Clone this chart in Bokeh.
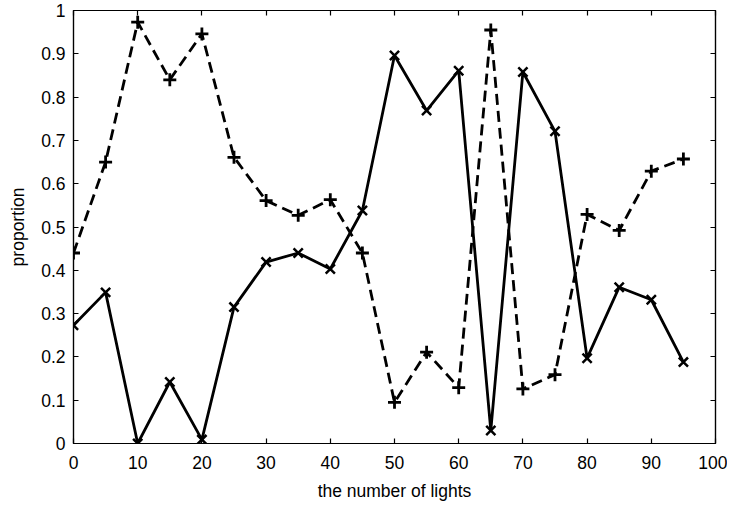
from bokeh.plotting import figure
from bokeh.models import FixedTicker, LinearAxis, Range1d
from bokeh.embed import file_html
from bokeh.resources import INLINE

lights = [0, 5, 10, 15, 20, 25, 30, 35, 40, 45, 50, 55, 60, 65, 70, 75, 80, 85, 90, 95]
series_solid = [0.273, 0.349, 0.0, 0.142, 0.009, 0.315, 0.419, 0.440, 0.403, 0.538,
                0.896, 0.769, 0.861, 0.030, 0.858, 0.721, 0.197, 0.361, 0.332, 0.188]
series_dashed = [0.440, 0.650, 0.973, 0.840, 0.946, 0.661, 0.561, 0.527, 0.563, 0.440,
                 0.095, 0.211, 0.129, 0.955, 0.126, 0.159, 0.529, 0.492, 0.629, 0.657]
x_ticks = [0, 10, 20, 30, 40, 50, 60, 70, 80, 90, 100]
x_tick_labels = ["0", "10", "20", "30", "40", "50", "60", "70", "80", "90", "100"]
y_ticks = [0, 0.1, 0.2, 0.3, 0.4, 0.5, 0.6, 0.7, 0.8, 0.9, 1]
y_tick_labels = ["0", "0.1", "0.2", "0.3", "0.4", "0.5", "0.6", "0.7", "0.8", "0.9", "1"]

FONT = "Liberation Sans"
FS = "17.5px"

p = figure(width=727, height=504, output_backend="svg", toolbar_location=None,
           x_range=Range1d(0, 100), y_range=Range1d(0, 1),
           min_border_left=73, min_border_right=12, min_border_top=10, min_border_bottom=61)
p.grid.visible = False
p.outline_line_color = "black"
p.outline_line_width = 1.2
p.background_fill_color = "white"
p.border_fill_color = "white"

# main axes
for ax in (p.xaxis[0], p.yaxis[0]):
    ax.major_tick_in = 5
    ax.major_tick_out = 0
    ax.minor_tick_in = 0
    ax.minor_tick_out = 0
    ax.axis_line_width = 1.2
    ax.major_tick_line_width = 1.2
    ax.major_label_text_font = FONT
    ax.major_label_text_font_size = FS
    ax.major_label_text_color = "black"
    ax.axis_label_text_font = FONT
    ax.axis_label_text_font_size = FS
    ax.axis_label_text_font_style = "normal"
    ax.axis_label_text_color = "black"

p.xaxis[0].ticker = FixedTicker(ticks=x_ticks)
p.xaxis[0].major_label_overrides = {t: l for t, l in zip(x_ticks, x_tick_labels)}
p.xaxis[0].axis_label = "the number of lights"
p.xaxis[0].major_label_standoff = 12
p.xaxis[0].axis_label_standoff = 9

p.yaxis[0].ticker = FixedTicker(ticks=y_ticks)
p.yaxis[0].major_label_overrides = {t: l for t, l in zip(y_ticks, y_tick_labels)}
p.yaxis[0].axis_label = "proportion"
p.yaxis[0].major_label_standoff = 8
p.yaxis[0].axis_label_standoff = 10

# mirrored ticks on top and right
top = LinearAxis(ticker=FixedTicker(ticks=x_ticks), major_label_text_font_size="0px",
                 major_tick_in=5, major_tick_out=0, minor_tick_in=0, minor_tick_out=0,
                 axis_line_width=1.2, major_tick_line_width=1.2, major_label_standoff=0)
right = LinearAxis(ticker=FixedTicker(ticks=y_ticks), major_label_text_font_size="0px",
                   major_tick_in=5, major_tick_out=0, minor_tick_in=0, minor_tick_out=0,
                   axis_line_width=1.2, major_tick_line_width=1.2, major_label_standoff=0)
top.major_label_text_color = None
right.major_label_text_color = None
p.add_layout(top, "above")
p.add_layout(right, "right")

# series
p.line(lights, series_dashed, line_color="black", line_width=2.8, line_dash="11 6")
p.scatter(lights, series_dashed, marker="cross", size=13, line_color="black", line_width=2.8)
p.line(lights, series_solid, line_color="black", line_width=2.8)
p.scatter(lights, series_solid, marker="x", size=13, line_color="black", line_width=2.5)

open("out.html", "w").write(file_html(p, INLINE))
